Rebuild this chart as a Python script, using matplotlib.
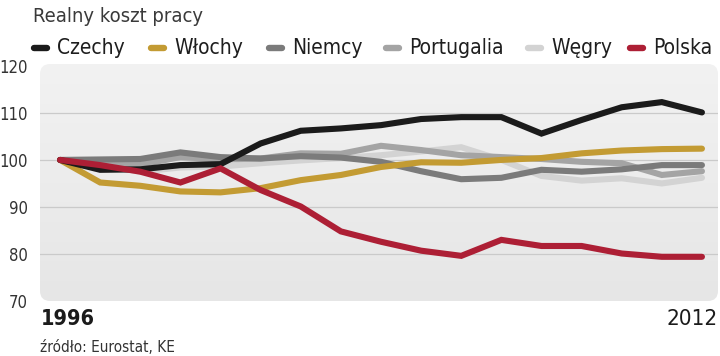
import numpy as np
import matplotlib
matplotlib.use('Agg')
import matplotlib.pyplot as plt
from matplotlib.patches import FancyBboxPatch
from matplotlib.lines import Line2D

plt.rcParams['font.family'] = ['DejaVu Sans']
plt.rcParams['font.stretch'] = 'condensed'

#%% data (index, 1996 = 100)
years = list(range(1996, 2013))
czechy     = [100, 97.9, 98.0, 98.9, 99.1, 103.5, 106.2, 106.7, 107.4, 108.7, 109.1, 109.1, 105.6, 108.5, 111.2, 112.3, 110.1]
wlochy     = [100, 95.2, 94.5, 93.3, 93.1, 94.0, 95.7, 96.8, 98.5, 99.5, 99.4, 100.0, 100.4, 101.4, 102.0, 102.3, 102.4]
niemcy     = [100, 100.1, 100.2, 101.6, 100.6, 100.3, 100.8, 100.5, 99.6, 97.6, 95.9, 96.2, 97.9, 97.5, 98.0, 98.9, 98.9]
portugalia = [100, 99.4, 99.0, 100.6, 100.1, 100.3, 101.4, 101.3, 103.0, 102.1, 101.0, 100.6, 100.2, 99.6, 99.3, 96.8, 97.6]
wegry      = [100, 99.0, 97.5, 98.4, 98.6, 99.3, 99.9, 100.4, 101.0, 101.8, 102.7, 100.0, 96.6, 95.6, 96.1, 95.0, 96.2]
polska     = [100, 98.9, 97.5, 95.2, 98.2, 93.6, 90.1, 84.8, 82.6, 80.7, 79.6, 83.0, 81.7, 81.7, 80.1, 79.4, 79.4]

names  = ['Czechy', 'Włochy', 'Niemcy', 'Portugalia', 'Węgry', 'Polska']
series = [czechy, wlochy, niemcy, portugalia, wegry, polska]
colors = ['#1b1b1b', '#c39b33', '#7b7b7b', '#a4a4a4', '#d3d3d3', '#ad1f35']
yticks = [70, 80, 90, 100, 110, 120]

W, H = 720, 356

#%% figure
fig = plt.figure(figsize=(7.2, 3.56), dpi=100)
fig.patch.set_facecolor('white')
ax = fig.add_axes([40/W, 55/H, 678/W, 237/H])
ax.set_xlim(1995.5, 2012.4)
ax.set_ylim(70, 120.4)
ax.patch.set_visible(False)
for s in ax.spines.values():
    s.set_visible(False)

# rounded panel with soft gradient
panel = FancyBboxPatch((0, 0), 1, 1, boxstyle='round,pad=0,rounding_size=0.015',
                       transform=ax.transAxes, facecolor='none', edgecolor='none',
                       mutation_aspect=678/237)
ax.add_patch(panel)
grad = np.linspace(0, 1, 256).reshape(-1, 1)
cmap = matplotlib.colors.LinearSegmentedColormap.from_list('g', ['#e6e6e6', '#f2f2f2'])
im = ax.imshow(grad, extent=[1995.5, 2012.4, 70, 120.4], aspect='auto',
               cmap=cmap, origin='lower', zorder=0)
im.set_clip_path(panel)

for v in yticks[1:-1]:
    ax.axhline(v, color='#cacaca', lw=0.9, zorder=1)

# draw order: light lines first, Polska on top
order = [4, 3, 2, 1, 0, 5]
for z, i in enumerate(order):
    ax.plot(years, series[i], color=colors[i], lw=4.4, solid_joinstyle='miter',
            solid_capstyle='round', zorder=2 + z)

ax.set_yticks(yticks)
ax.set_yticklabels([str(v) for v in yticks], fontsize=12, color='#333333')
ax.tick_params(axis='y', length=0, pad=9)
ax.set_xticks([])

fig.text(41/W, 1 - 325/H, str(years[0]), ha='left', va='baseline',
         fontsize=15.5, fontweight='bold', color='#1b1b1b')
fig.text(718/W, 1 - 325/H, str(years[-1]), ha='right', va='baseline',
         fontsize=16, color='#1b1b1b')

#%% title, legend, source
fig.text(33/W, 1 - 22/H, 'Realny koszt pracy', fontsize=14.5, color='#3a3a3a',
         va='baseline', ha='left')

leg_x = [31, 148, 266, 383, 525, 627]
for x, name, c in zip(leg_x, names, colors):
    fig.add_artist(Line2D([(x + 3)/W, (x + 16)/W], [1 - 48/H, 1 - 48/H],
                          color=c, lw=4.6, solid_capstyle='round', transform=fig.transFigure))
    fig.text((x + 26)/W, 1 - 54/H, name, fontsize=15, color='#1e1e1e',
             va='baseline', ha='left')

fig.text(40/W, 1 - 352/H, 'źródło: Eurostat, KE', fontsize=11, color='#333333',
         va='baseline', ha='left')

fig.savefig('out.png', dpi=100)
